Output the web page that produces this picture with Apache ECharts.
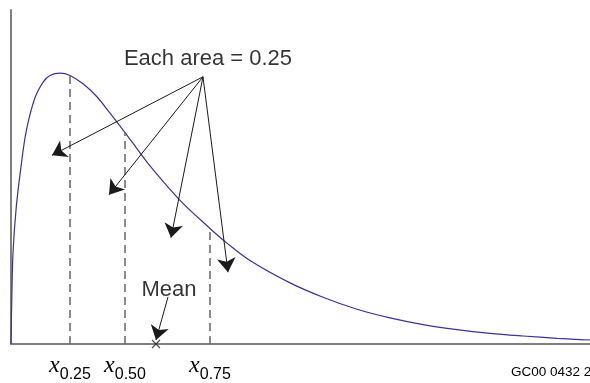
<!DOCTYPE html>
<html><head><meta charset="utf-8">
<script src="https://cdn.jsdelivr.net/npm/echarts@6/dist/echarts.min.js"></script>
<style>html,body{margin:0;padding:0;background:#fff}#c{width:590px;height:383px}</style>
</head><body><div id="c"></div>
<script>
// Density curve (x in arbitrary units 0..10, y relative density 0..1)
var curveX = [0, 0.012, 0.035, 0.092, 0.178, 0.264, 0.409, 0.558, 0.674, 0.846, 1.019, 1.244, 1.480, 1.710, 1.969, 2.171, 2.401, 2.919, 3.437, 3.731, 4.128, 4.819, 5.389, 5.976, 6.546, 7.116, 7.703, 8.273, 8.843, 9.430, 10.0];
var curveY = [0, 0.120, 0.274, 0.412, 0.538, 0.638, 0.735, 0.785, 0.804, 0.811, 0.804, 0.779, 0.741, 0.691, 0.633, 0.586, 0.533, 0.430, 0.346, 0.302, 0.250, 0.183, 0.140, 0.104, 0.078, 0.058, 0.043, 0.032, 0.024, 0.017, 0.012];
// Quartiles
var quantileX = [1.019, 1.969, 3.437];
var quantileTop = [0.804, 0.633, 0.346];
var quantileLabels = ['0.25', '0.50', '0.75'];
// Annotation arrows
var areaOrigin = [3.316, 0.80];
var areaTipsX = [0.708, 1.693, 2.763, 3.748];
var areaTipsY = [0.565, 0.447, 0.318, 0.215];
var areaText = 'Each area = 0.25';
var meanX = 2.504;
var meanArrowStart = [2.712, 0.141];
var meanText = 'Mean';
var codeText = 'GC00 0432 2';

var chart = echarts.init(document.getElementById('c'));
var curveData = curveX.map(function (x, i) { return [x, curveY[i]]; });
var dashData = quantileX.map(function (q, i) { return [{coord: [q, 0]}, {coord: [q, quantileTop[i]]}]; });
var arrowData = areaTipsX.map(function (x, i) { return [{coord: areaOrigin}, {coord: [x, areaTipsY[i]]}]; });
arrowData.push([{coord: meanArrowStart}, {coord: [meanX, 0.012]}]);
var labelMap = {};
quantileX.forEach(function (q, i) { labelMap[q] = quantileLabels[i]; });

chart.setOption({
  animation: false,
  backgroundColor: '#fff',
  grid: {left: 11, right: 0, top: 10, bottom: 33, containLabel: false},
  title: {text: codeText, left: 511, top: 365, padding: 0, textStyle: {fontFamily: 'Liberation Sans, Arial', fontSize: 13.5, fontWeight: 'normal', color: '#000'}},
  xAxis: {
    type: 'value', min: 0, max: 10,
    axisLine: {show: true, onZero: false, lineStyle: {color: '#808080', width: 2}},
    axisTick: {show: false},
    splitLine: {show: false},
    axisLabel: {
      customValues: quantileX,
      margin: 10,
      formatter: function (v) { return '{x|x}{s|' + (labelMap[v] || '') + '}'; },
      rich: {
        x: {fontFamily: 'Liberation Serif, Times New Roman, serif', fontStyle: 'italic', fontSize: 24, color: '#000', verticalAlign: 'bottom', padding: [0, 0, 5, 0]},
        s: {fontFamily: 'Liberation Sans, Arial', fontSize: 16, color: '#000', verticalAlign: 'bottom'}
      }
    }
  },
  yAxis: {
    type: 'value', min: 0, max: 1,
    axisLine: {show: true, lineStyle: {color: '#808080', width: 2}},
    axisTick: {show: false}, axisLabel: {show: false}, splitLine: {show: false}
  },
  series: [
    {
      type: 'line', data: curveData, smooth: 0.35, showSymbol: false,
      lineStyle: {color: '#3d3193', width: 1.2}, z: 3,
      markLine: {
        silent: true, symbol: ['none', 'none'],
        lineStyle: {color: '#666', width: 1.5, type: [8, 5]},
        label: {show: false},
        data: dashData
      }
    },
    {
      type: 'line', data: [], showSymbol: false,
      markLine: {
        silent: true, symbol: ['none', 'arrow'], symbolSize: 14,
        lineStyle: {color: '#1a1a1a', width: 1, type: 'solid'},
        itemStyle: {color: '#111'},
        label: {show: false},
        data: arrowData
      }
    },
    {
      type: 'scatter', symbol: 'circle', symbolSize: 1, z: 5,
      itemStyle: {color: 'rgba(0,0,0,0)'},
      data: [
        {value: areaOrigin, label: {show: true, position: 'top', distance: 6, offset: [5, 0], formatter: areaText, fontFamily: 'Liberation Sans, Arial', fontSize: 22, color: '#000'}},
        {value: meanArrowStart, label: {show: true, position: 'top', distance: 2, offset: [1, 7], formatter: meanText, fontFamily: 'Liberation Sans, Arial', fontSize: 22, color: '#000'}}
      ]
    },
    {
      type: 'scatter', symbol: 'path://M0,0 L10,10 M10,0 L0,10', symbolSize: 8,
      itemStyle: {color: 'none', borderColor: '#222', borderWidth: 1.2},
      data: [[meanX, 0]], z: 6, clip: false
    }
  ]
});
</script></body></html>
